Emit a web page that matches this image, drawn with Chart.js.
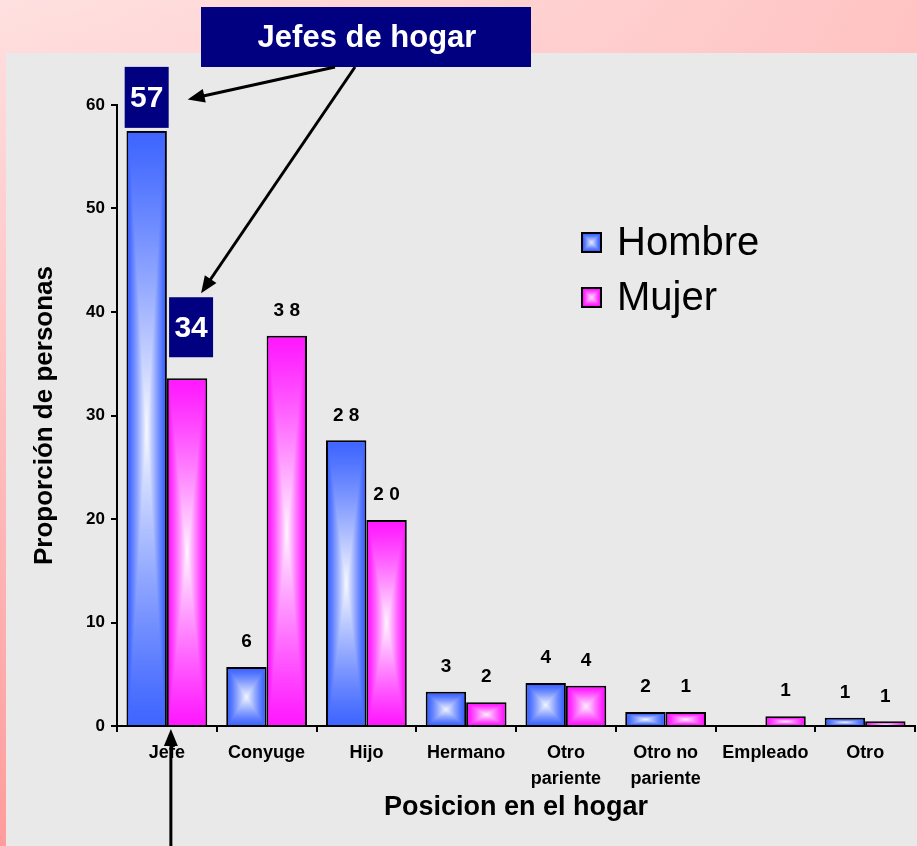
<!DOCTYPE html>
<html lang="es">
<head>
  <meta charset="UTF-8">
  <title>Posicion en el hogar</title>
  <style>
    html, body { margin: 0; padding: 0; overflow: hidden; }
    canvas { display: block; }
  </style>
</head>
<body>
  <canvas id="chart" width="917" height="846"></canvas>

  <script src="https://cdn.jsdelivr.net/npm/chart.js@4"></script>
  <script>
    // data
    const categories = ['Jefe', 'Conyuge', 'Hijo', 'Hermano', ['Otro', 'pariente'], ['Otro no', 'pariente'], 'Empleado', 'Otro'];
    const hombre = [57.5, 5.7, 27.6, 3.3, 4.15, 1.35, 0, 0.8];
    const mujer  = [33.6, 37.7, 19.9, 2.3, 3.9, 1.35, 0.95, 0.45];
    const hombreLabels = ['57', '6', '28', '3', '4', '2', '', '1'];
    const mujerLabels  = ['34', '38', '20', '2', '4', '1', '1', '1'];
    const yTicks = [0, 10, 20, 30, 40, 50, 60];

    const FONT = '"Liberation Sans", Arial, Helvetica, sans-serif';
    const NAVY = '#000080';
    const BLUE = [63, 102, 255];
    const PINK = [255, 26, 255];

    const rgb = c => `rgb(${c[0]},${c[1]},${c[2]})`;

    // "from centre" rectangle gradient, edge colour -> white
    function rectGradient(ctx, l, t, w, h, edge) {
      const hw = w / 2, hh = h / 2;
      const n = Math.min(400, Math.max(8, Math.ceil(Math.max(hw, hh))));
      for (let k = 0; k < n; k++) {
        const s = k / n, m = Math.pow(s, 1.15) * 0.96;
        ctx.fillStyle = rgb(edge.map(v => Math.round(v + (255 - v) * m)));
        ctx.fillRect(l + s * hw, t + s * hh, w - 2 * s * hw, h - 2 * s * hh);
      }
    }

    function arrow(ctx, x1, y1, x2, y2) {
      const a = Math.atan2(y2 - y1, x2 - x1);
      const L = 17, W = 7;
      ctx.save();
      ctx.strokeStyle = '#000';
      ctx.fillStyle = '#000';
      ctx.lineWidth = 3;
      ctx.beginPath();
      ctx.moveTo(x1, y1);
      ctx.lineTo(x2 - Math.cos(a) * L * 0.8, y2 - Math.sin(a) * L * 0.8);
      ctx.stroke();
      ctx.beginPath();
      ctx.moveTo(x2, y2);
      ctx.lineTo(x2 - Math.cos(a) * L - Math.sin(a) * W, y2 - Math.sin(a) * L + Math.cos(a) * W);
      ctx.lineTo(x2 - Math.cos(a) * L + Math.sin(a) * W, y2 - Math.sin(a) * L - Math.cos(a) * W);
      ctx.closePath();
      ctx.fill();
      ctx.restore();
    }

    const backdrop = {
      id: 'backdrop',
      beforeDraw(chart) {
        const { ctx, width, height } = chart;
        ctx.save();
        const g1 = ctx.createLinearGradient(0, 0, 0, height);
        g1.addColorStop(0, '#ffe0e0');
        g1.addColorStop(1, '#ff9c9c');
        ctx.fillStyle = g1;
        ctx.fillRect(0, 0, width, height);
        const g2 = ctx.createLinearGradient(0, 0, width, 0);
        g2.addColorStop(0, 'rgba(255,200,200,0)');
        g2.addColorStop(1, 'rgba(255,190,190,0.85)');
        ctx.fillStyle = g2;
        ctx.fillRect(0, 0, width, height);
        ctx.fillStyle = '#e9e9e9';
        ctx.fillRect(6, 53, width - 6, height - 53);
        ctx.restore();
      }
    };

    // shaded bar fill drawn over the library's bars
    const barShade = {
      id: 'barShade',
      afterDatasetsDraw(chart) {
        const ctx = chart.ctx;
        const edges = [BLUE, PINK];
        ctx.save();
        chart.data.datasets.forEach((ds, di) => {
          const bw = ds.borderWidth;
          chart.getDatasetMeta(di).data.forEach(bar => {
            const { x, y, base, width } = bar.getProps(['x', 'y', 'base', 'width'], true);
            const l = x - width / 2 + bw, r = x + width / 2 - bw;
            const t = Math.min(y, base) + bw, b = Math.max(y, base);
            if (b - t < 1) return;
            rectGradient(ctx, l, t, r - l, b - t, edges[di]);
          });
        });
        ctx.restore();
      }
    };

    const notes = {
      id: 'notes',
      afterDraw(chart) {
        const ctx = chart.ctx;
        const hBars = chart.getDatasetMeta(0).data;
        const mBars = chart.getDatasetMeta(1).data;
        ctx.save();

        // value labels
        ctx.font = 'bold 19px ' + FONT;
        ctx.fillStyle = '#000';
        ctx.textAlign = 'center';
        ctx.textBaseline = 'middle';
        [[hBars, hombreLabels], [mBars, mujerLabels]].forEach(([bars, labs]) => {
          bars.forEach((bar, i) => {
            if (i === 0 || !labs[i]) return;
            ctx.fillText(labs[i].split('').join(' '), bar.x, bar.y - 25);
          });
        });

        // highlighted boxes for Jefe
        const box57 = { x: hBars[0].x - 22, y: hBars[0].y - 64, w: 44, h: 61 };
        const box34 = { x: mBars[0].x - 18, y: mBars[0].y - 81, w: 44, h: 60 };
        ctx.font = 'bold 30px ' + FONT;
        [[box57, hombreLabels[0]], [box34, mujerLabels[0]]].forEach(([bx, txt]) => {
          ctx.fillStyle = NAVY;
          ctx.fillRect(bx.x, bx.y, bx.w, bx.h);
          ctx.fillStyle = '#fff';
          ctx.fillText(txt, bx.x + bx.w / 2, bx.y + bx.h / 2 + 1);
        });

        // title box
        ctx.fillStyle = NAVY;
        ctx.fillRect(201, 7, 330, 60);
        ctx.fillStyle = '#fff';
        ctx.font = 'bold 31px ' + FONT;
        ctx.fillText('Jefes de hogar', 367, 38);

        // arrows
        arrow(ctx, 335, 67, box57.x + box57.w + 19, box57.y + box57.h / 2 + 2);
        arrow(ctx, 355, 67, box34.x + 32, box34.y - 4);
        arrow(ctx, mBars[0].x - mBars[0].width / 2 + 4, chart.height, mBars[0].x - mBars[0].width / 2 + 4, chart.chartArea.bottom + 3);

        // legend
        const items = [['Hombre', BLUE, 232], ['Mujer', PINK, 287]];
        ctx.textAlign = 'left';
        ctx.font = '40px ' + FONT;
        items.forEach(([name, col, top]) => {
          ctx.fillStyle = '#000';
          ctx.fillRect(581, top, 21, 21);
          rectGradient(ctx, 583, top + 2, 17, 17, col);
          ctx.fillStyle = '#000';
          ctx.fillText(name, 617, top + 12);
        });
        ctx.restore();
      }
    };

    new Chart(document.getElementById('chart'), {
      type: 'bar',
      data: {
        labels: categories,
        datasets: [
          { label: 'Hombre', data: hombre, backgroundColor: rgb(BLUE), borderColor: '#000', borderWidth: 2,
            categoryPercentage: 0.81, barPercentage: 1 },
          { label: 'Mujer', data: mujer, backgroundColor: rgb(PINK), borderColor: '#000', borderWidth: 2,
            categoryPercentage: 0.81, barPercentage: 1 }
        ]
      },
      options: {
        responsive: false,
        animation: false,
        layout: { padding: { top: 105, right: 2, left: 0, bottom: 0 } },
        plugins: { legend: { display: false }, tooltip: { enabled: false } },
        scales: {
          x: {
            offset: true,
            grid: { display: true, drawOnChartArea: false, tickLength: 6, color: '#000', lineWidth: 2 },
            border: { color: '#000', width: 2 },
            ticks: { color: '#000', padding: 8, maxRotation: 0, autoSkip: false,
                     font: { family: FONT, size: 18, weight: 'bold', lineHeight: 1.45 } },
            title: { display: true, text: 'Posicion en el hogar', color: '#000',
                     font: { family: FONT, size: 27, weight: 'bold' }, padding: { top: 0, bottom: 22 } },
            afterFit: s => { s.height = 120; }
          },
          y: {
            min: yTicks[0],
            max: yTicks[yTicks.length - 1],
            afterBuildTicks: s => { s.ticks = yTicks.map(v => ({ value: v })); },
            grid: { display: true, drawOnChartArea: false, tickLength: 6, color: '#000', lineWidth: 2 },
            border: { color: '#000', width: 2 },
            ticks: { color: '#000', padding: 6, font: { family: FONT, size: 17, weight: 'bold' } },
            title: { display: true, text: 'Proporción de personas', color: '#000',
                     font: { family: FONT, size: 26, weight: 'bold' }, padding: { top: 29, bottom: 0 } },
            afterFit: s => { s.width = 117; }
          }
        }
      },
      plugins: [backdrop, barShade, notes]
    });
  </script>
</body>
</html>
